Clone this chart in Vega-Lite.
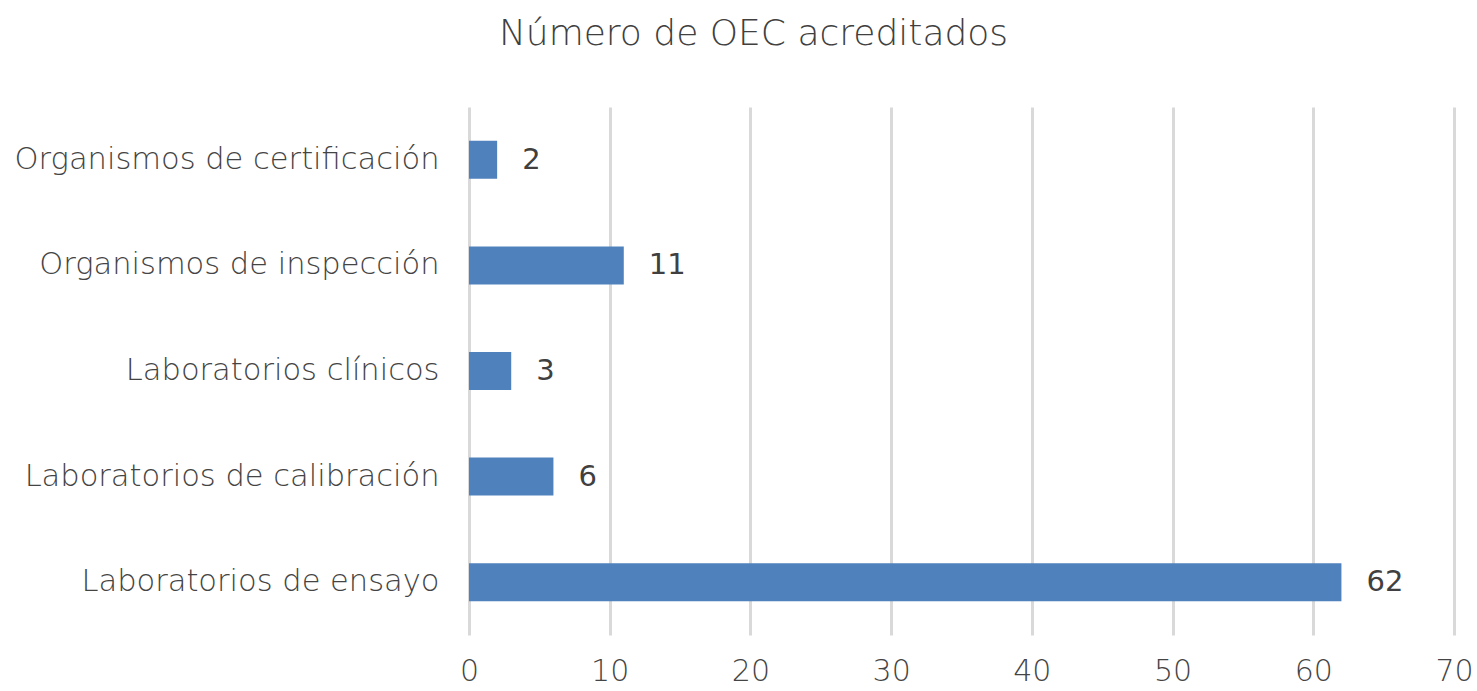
{
  "$schema": "https://vega.github.io/schema/vega-lite/v6.json",
  "width": 985,
  "height": 528,
  "autosize": "none",
  "padding": {"left": 469, "top": 107, "right": 23, "bottom": 56},
  "background": "white",
  "title": {
    "text": "Número de OEC acreditados",
    "font": "DejaVu Sans",
    "fontSize": 36,
    "fontWeight": 300,
    "color": "#404040",
    "anchor": "middle",
    "frame": "group",
    "offset": 54,
    "dx": -208
  },
  "data": {
    "values": [
      {"cat": "Organismos de certificación", "n": 2},
      {"cat": "Organismos de inspección", "n": 11},
      {"cat": "Laboratorios clínicos", "n": 3},
      {"cat": "Laboratorios de calibración", "n": 6},
      {"cat": "Laboratorios de ensayo", "n": 62}
    ]
  },
  "config": {
    "view": {"stroke": null},
    "font": "DejaVu Sans"
  },
  "encoding": {
    "y": {
      "field": "cat",
      "type": "nominal",
      "sort": null,
      "scale": {"paddingInner": 0.64, "paddingOuter": 0.32},
      "axis": {
        "title": null,
        "domain": false,
        "ticks": false,
        "grid": false,
        "labelFont": "DejaVu Sans",
        "labelFontWeight": 300,
        "labelFontSize": 30.5,
        "labelColor": "#444444",
        "labelPadding": 30,
        "labelLimit": 600
      }
    },
    "x": {
      "field": "n",
      "type": "quantitative",
      "scale": {"domain": [0, 70], "nice": false},
      "axis": {
        "title": null,
        "values": [0, 10, 20, 30, 40, 50, 60, 70],
        "domain": false,
        "ticks": false,
        "grid": true,
        "gridColor": "#d9d9d9",
        "gridWidth": 3,
        "labelFont": "DejaVu Sans",
        "labelFontWeight": 300,
        "labelFontSize": 30,
        "labelColor": "#444444",
        "labelPadding": 21,
        "labelFlush": false
      }
    }
  },
  "layer": [
    {"mark": {"type": "bar", "color": "#4F81BD"}},
    {
      "mark": {"type": "text", "align": "left", "baseline": "middle", "dx": 25, "font": "DejaVu Sans", "fontSize": 29, "color": "#404040"},
      "encoding": {"text": {"field": "n", "type": "quantitative"}}
    }
  ]
}
